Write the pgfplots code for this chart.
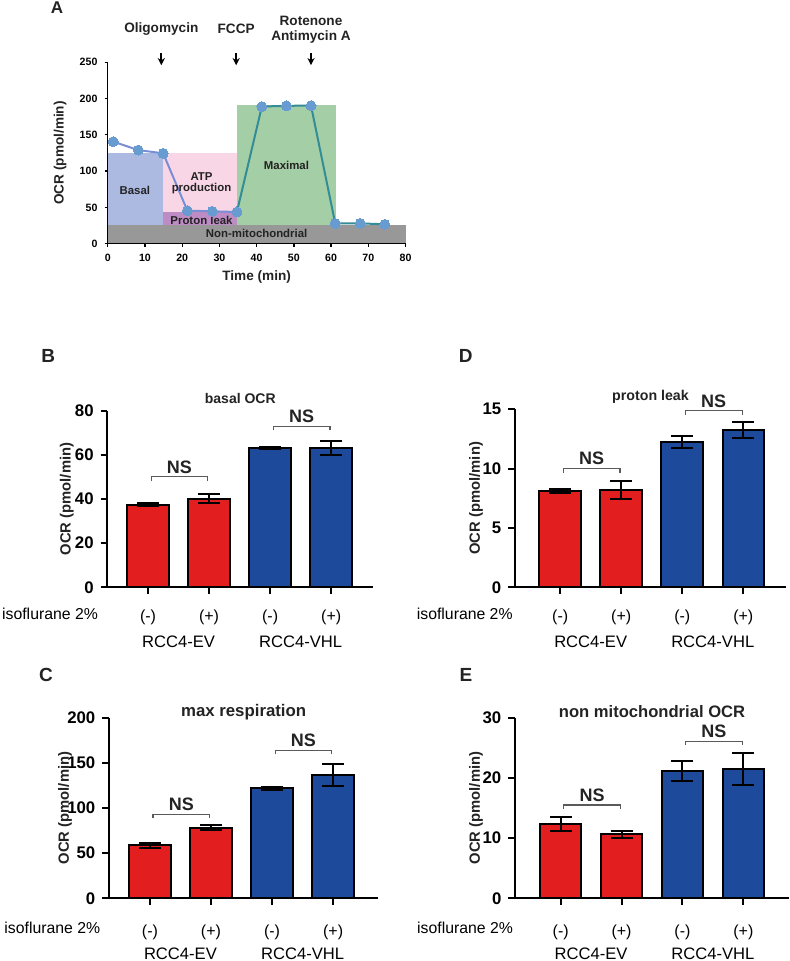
\documentclass[border=0pt]{standalone}
\usepackage{fontspec}
\setmainfont{Liberation Sans}
\usepackage{pgfplots}
\pgfplotsset{compat=1.18}
\usetikzlibrary{arrows.meta}
\newcommand\fs[1]{\fontsize{#1}{#1}\selectfont}
\definecolor{barred}{RGB}{226,30,30}
\definecolor{barblue}{RGB}{30,74,156}
\definecolor{basalc}{RGB}{172,186,226}
\definecolor{atpc}{RGB}{249,214,230}
\definecolor{leakc}{RGB}{190,140,196}
\definecolor{maxc}{RGB}{164,206,166}
\definecolor{nonc}{RGB}{152,152,152}
\definecolor{linec1}{RGB}{122,142,214}
\definecolor{linec2}{RGB}{52,140,150}
\definecolor{markc}{RGB}{104,156,208}
\definecolor{txtc}{RGB}{35,35,35}
\definecolor{brc}{RGB}{90,90,90}
\pgfplotsset{
  barpanel/.style={
    scale only axis, axis lines=left, axis line style={-, line width=1pt},
    tick align=outside, major tick length=3.3pt, tick style={black, line width=1pt},
    ymin=0, clip=false,
    xtick={0,1,2,3}, xticklabels={(-),(+),(-),(+)},
    xticklabel style={font=\fs{8}, anchor=center},
    yticklabel style={font=\fs{8.4}\bfseries},
    /pgf/number format/assume math mode=true,
  },
  redbar/.style={ybar, bar width=0.68, bar shift=0pt, fill=barred, draw=black, line width=1pt,
    error bars/.cd, y dir=both, y explicit,
    error bar style={line width=1pt, black},
    error mark options={rotate=90, mark size=5.5pt, line width=1pt, black}},
  bluebar/.style={ybar, bar width=0.68, bar shift=0pt, fill=barblue, draw=black, line width=1pt,
    error bars/.cd, y dir=both, y explicit,
    error bar style={line width=1pt, black},
    error mark options={rotate=90, mark size=5.5pt, line width=1pt, black}},
}
\newcommand\bracket[3]{% x1, x2, y
  \draw[brc, line width=0.55pt] ([yshift=-2pt]axis cs:#1,#3) -- (axis cs:#1,#3) -- (axis cs:#2,#3) -- ([yshift=-2pt]axis cs:#2,#3);
  \node[font=\fs{9}\bfseries, text=txtc] at ([yshift=5pt]axis cs:{(#1+#2)/2},#3) {NS};
}
\begin{document}
\begin{tikzpicture}
\path[use as bounding box] (0,0) rectangle (395pt,480.5pt);

% ---------------- Panel A ----------------
\begin{axis}[at={(53.85pt,358.65pt)}, anchor=south west, scale only axis,
  width=148.95pt, height=90.7pt, xmin=0, xmax=80, ymin=0, ymax=250,
  axis lines=left, axis line style={-, line width=0.65pt}, axis on top,
  tick align=outside, major tick length=1.6pt, tick style={black, line width=0.65pt},
  xtick={0,10,...,80}, ytick={0,50,...,250},
  ticklabel style={font=\fs{5.3}\bfseries},
  /pgf/number format/assume math mode=true, clip=false]
\addplot[draw=none, fill=nonc] coordinates {(0,0) (80,0) (80,26) (0,26)};
\addplot[draw=none, fill=basalc] coordinates {(0,26) (14.8,26) (14.8,125) (0,125)};
\addplot[draw=none, fill=atpc] coordinates {(14.8,43) (34.8,43) (34.8,125) (14.8,125)};
\addplot[draw=none, fill=leakc] coordinates {(14.8,26) (34.8,26) (34.8,43) (14.8,43)};
\addplot[draw=none, fill=maxc] coordinates {(34.8,26) (61.3,26) (61.3,190.5) (34.8,190.5)};
\addplot[linec1, line width=1pt, mark=none] coordinates {(1.5,140.6) (8.2,129) (14.9,124.5) (21.4,45.5) (28.1,44.6) (34.7,43.7)};
\addplot[linec2, line width=1pt, mark=none] coordinates {(34.7,43.7) (41.4,189) (48,190) (54.6,190.3) (61.1,28) (67.8,28) (74.4,26.7)};
\addplot[markc, only marks, mark=*, mark size=2.5pt, mark options={fill=markc, draw=markc, line width=0pt}] coordinates {(1.5,140.6) (8.2,129) (14.9,124.5) (21.4,45.5) (28.1,44.6) (34.7,43.7) (41.4,189) (48,190) (54.6,190.3) (61.1,28) (67.8,28) (74.4,26.7)};
\begin{scope}[font=\fs{5.7}\bfseries, text=txtc]
\node at (axis cs:7.3,74) {Basal};
\node[align=center] at (axis cs:25.2,83) {ATP\\production};
\node at (axis cs:25.2,32.6) {Proton leak};
\node at (axis cs:48,107.5) {Maximal};
\node at (axis cs:40,14) {Non-mitochondrial};
\end{scope}
\begin{scope}[font=\fs{6.8}\bfseries, text=txtc]
\node at (axis cs:14.4,295.5) {Oligomycin};
\node at (axis cs:34.5,295.5) {FCCP};
\node at (axis cs:54.6,307.3) {Rotenone};
\node at (axis cs:54.6,284.5) {Antimycin A};
\end{scope}
\draw[line width=0.85pt, -{Stealth[length=3.6pt,width=3.6pt]}] (axis cs:14.4,263) -- (axis cs:14.4,246);
\draw[line width=0.85pt, -{Stealth[length=3.6pt,width=3.6pt]}] (axis cs:34.5,263) -- (axis cs:34.5,246);
\draw[line width=0.85pt, -{Stealth[length=3.6pt,width=3.6pt]}] (axis cs:54.6,263) -- (axis cs:54.6,246);
\node[font=\fs{6.8}\bfseries, text=txtc] at ([yshift=-16.5pt]rel axis cs:0.5,0) {Time (min)};
\node[font=\fs{6.8}\bfseries, text=txtc, rotate=90] at ([xshift=-23.85pt]rel axis cs:0,0.5) {OCR (pmol/min)};
\end{axis}

% ---------------- Panel B ----------------
\begin{axis}[barpanel, at={(53.65pt,186.85pt)}, anchor=south west,
  width=133pt, height=88.3pt, xmin=-0.667, xmax=3.69, ymax=80, ytick={0,20,...,80},
  xticklabel style={yshift=-11.85pt}]
\addplot[redbar] coordinates {(0,37.4) +- (0,0.7) (1,40.1) +- (0,2.0)};
\addplot[bluebar] coordinates {(2,63.1) +- (0,0.5) (3,63.1) +- (0,3.0)};
\bracket{0.05}{0.98}{50}
\bracket{2.05}{2.98}{73}
\node[font=\fs{7}\bfseries, text=txtc] at ([yshift=6.2pt]rel axis cs:0.5,1) {basal OCR};
\node[font=\fs{7.4}\bfseries, text=txtc, rotate=90] at ([xshift=-20.3pt]rel axis cs:0,0.5) {OCR (pmol/min)};
\node[font=\fs{7.9}, anchor=east, inner sep=0pt] at ([xshift=-4.5pt,yshift=-13.35pt]rel axis cs:0,0) {isoflurane 2\%};
\node[font=\fs{8.3}] at ([yshift=-27.2pt]axis cs:0.5,0) {RCC4-EV};
\node[font=\fs{8.3}] at ([yshift=-27.2pt]axis cs:2.5,0) {RCC4-VHL};
\end{axis}

% ---------------- Panel D ----------------
\begin{axis}[barpanel, at={(257.5pt,186.85pt)}, anchor=south west,
  width=135.5pt, height=89pt, xmin=-0.74, xmax=3.70, ymax=15, ytick={0,5,10,15},
  xticklabel style={yshift=-11.85pt}]
\addplot[redbar] coordinates {(0,8.12) +- (0,0.15) (1,8.2) +- (0,0.75)};
\addplot[bluebar] coordinates {(2,12.25) +- (0,0.48) (3,13.28) +- (0,0.68)};
\bracket{0.05}{0.98}{10.0}
\bracket{2.05}{2.98}{14.86}
\node[font=\fs{7.1}\bfseries, text=txtc] at ([yshift=6.2pt]rel axis cs:0.5,1) {proton leak};
\node[font=\fs{7.4}\bfseries, text=txtc, rotate=90] at ([xshift=-19.5pt]rel axis cs:0,0.5) {OCR (pmol/min)};
\node[font=\fs{7.9}, anchor=east, inner sep=0pt] at ([xshift=-1pt,yshift=-13.35pt]rel axis cs:0,0) {isoflurane 2\%};
\node[font=\fs{8.3}] at ([yshift=-27.2pt]axis cs:0.5,0) {RCC4-EV};
\node[font=\fs{8.3}] at ([yshift=-27.2pt]axis cs:2.5,0) {RCC4-VHL};
\end{axis}

% ---------------- Panel C ----------------
\begin{axis}[barpanel, at={(54.5pt,31.35pt)}, anchor=south west,
  width=134.65pt, height=90.3pt, xmin=-0.67, xmax=3.74, ymax=200, ytick={0,50,...,200},
  xticklabel style={yshift=-13.5pt}]
\addplot[redbar] coordinates {(0,58.5) +- (0,2.5) (1,78.2) +- (0,2.5)};
\addplot[bluebar] coordinates {(2,121.8) +- (0,1.8) (3,136.5) +- (0,12)};
\bracket{0.05}{0.98}{93}
\bracket{2.05}{2.98}{164}
\node[font=\fs{8.4}\bfseries, text=txtc] at ([yshift=3pt]rel axis cs:0.5,1) {max respiration};
\node[font=\fs{7.4}\bfseries, text=txtc, rotate=90] at ([xshift=-22pt]rel axis cs:0,0.5) {OCR (pmol/min)};
\node[font=\fs{7.9}, anchor=east, inner sep=0pt] at ([xshift=-4.2pt,yshift=-15pt]rel axis cs:0,0) {isoflurane 2\%};
\node[font=\fs{8.3}] at ([yshift=-27.6pt]axis cs:0.5,0) {RCC4-EV};
\node[font=\fs{8.3}] at ([yshift=-27.6pt]axis cs:2.5,0) {RCC4-VHL};
\end{axis}

% ---------------- Panel E ----------------
\begin{axis}[barpanel, at={(257.5pt,31.35pt)}, anchor=south west,
  width=137pt, height=90.3pt, xmin=-0.75, xmax=3.75, ymax=30, ytick={0,10,20,30},
  xticklabel style={yshift=-13.5pt}]
\addplot[redbar] coordinates {(0,12.34) +- (0,1.1) (1,10.6) +- (0,0.65)};
\addplot[bluebar] coordinates {(2,21.2) +- (0,1.65) (3,21.5) +- (0,2.6)};
\bracket{0.05}{0.98}{15.5}
\bracket{2.05}{2.98}{26.1}
\node[font=\fs{8.3}\bfseries, text=txtc] at ([yshift=3pt]rel axis cs:0.5,1) {non mitochondrial OCR};
\node[font=\fs{7.4}\bfseries, text=txtc, rotate=90] at ([xshift=-19.5pt]rel axis cs:0,0.5) {OCR (pmol/min)};
\node[font=\fs{7.9}, anchor=east, inner sep=0pt] at ([xshift=-0.85pt,yshift=-15pt]rel axis cs:0,0) {isoflurane 2\%};
\node[font=\fs{8.3}] at ([yshift=-27.6pt]axis cs:0.5,0) {RCC4-EV};
\node[font=\fs{8.3}] at ([yshift=-27.6pt]axis cs:2.5,0) {RCC4-VHL};
\end{axis}

% ---------------- panel letters ----------------
\begin{scope}[shift={(0pt,480.5pt)}, x=0.5pt, y=-0.5pt, font=\fs{9.5}\bfseries, text=txtc]
\node[font=\fs{8.5}\bfseries] at (57,8) {A};
\node at (48.3,356) {B};
\node at (465.7,356) {D};
\node at (46,675) {C};
\node at (466,675) {E};
\end{scope}
\end{tikzpicture}
\end{document}
